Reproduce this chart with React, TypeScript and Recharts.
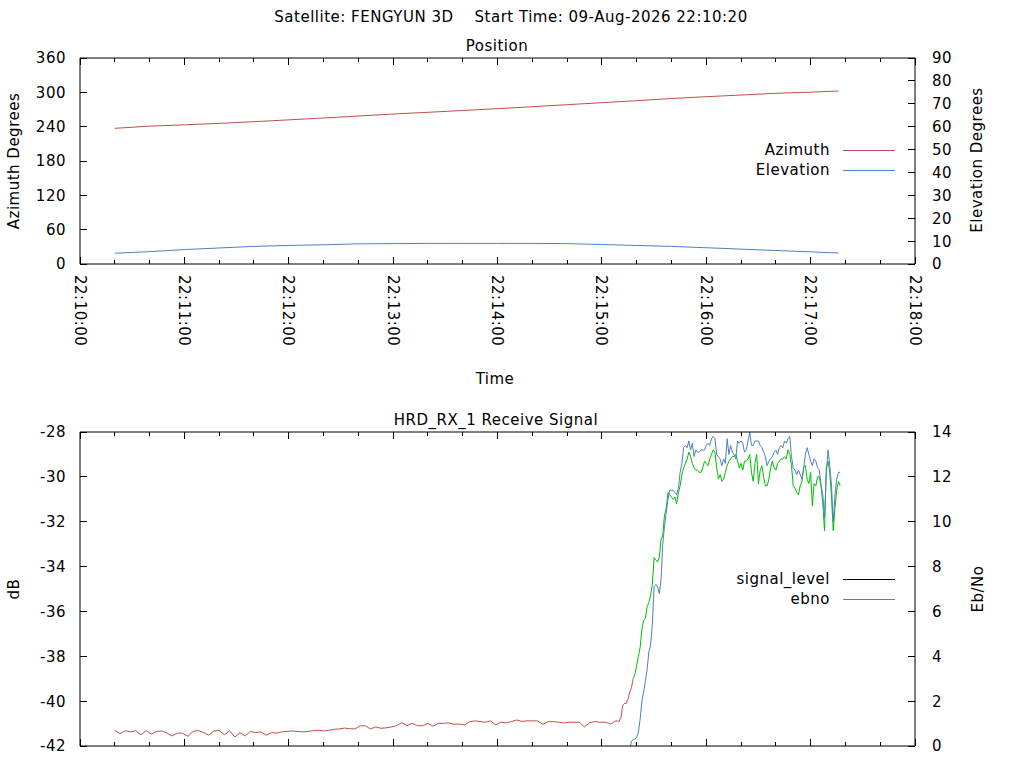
import React from 'react';
import { LineChart, Line, XAxis, YAxis } from 'recharts';

const FONT = '"DejaVu Sans", sans-serif';
const RED = '#c0504d';
const BLUE = '#4f81bd';
const GREEN = '#00c000';

// seconds after 22:10:00
const timeTicks = [0, 20, 40, 60, 80, 100, 120, 140, 160, 180, 200, 220, 240, 260, 280, 300, 320, 340, 360, 380, 400, 420, 440, 460, 480];
const azTicks = [0, 60, 120, 180, 240, 300, 360];
const elTicks = [0, 10, 20, 30, 40, 50, 60, 70, 80, 90];
const dbTicks = [-42, -40, -38, -36, -34, -32, -30, -28];
const ebnoTicks = [0, 2, 4, 6, 8, 10, 12, 14];

// Position panel
const posTimes = [20, 40, 60, 80, 100, 120, 140, 160, 180, 200, 220, 240, 260, 280, 300, 320, 340, 360, 380, 400, 420, 436];
const azimuth = [237.1, 240.9, 243.2, 245.8, 248.7, 251.9, 255.1, 258.6, 262.1, 265.1, 268.3, 271.4, 274.9, 278.4, 281.9, 285.4, 289.2, 292.4, 295.3, 298.3, 300.3, 302.3];
const elevation = [4.7, 5.4, 6.3, 7.0, 7.7, 8.1, 8.4, 8.8, 8.9, 9.0, 9.0, 9.0, 9.0, 8.9, 8.5, 8.1, 7.7, 7.1, 6.5, 5.9, 5.3, 4.8];

// Receive signal panel: quiet part sampled every 3 s, pass every 1 s
const QUIET_START = 20;
const QUIET_STEP = 3;
const quietDb = [
  -41.30, -41.45, -41.32, -41.37, -41.32, -41.50, -41.32, -41.47, -41.35, -41.33,
  -41.42, -41.55, -41.42, -41.43, -41.57, -41.35, -41.31, -41.40, -41.52, -41.33,
  -41.31, -41.50, -41.32, -41.60, -41.41, -41.55, -41.35, -41.40, -41.37, -41.52,
  -41.41, -41.42, -41.37, -41.35, -41.33, -41.35, -41.37, -41.35, -41.32, -41.30,
  -41.33, -41.30, -41.26, -41.24, -41.20, -41.23, -41.24, -41.10, -41.10,
  -41.24, -41.15, -41.21, -41.19, -41.15, -41.09, -40.96, -41.09, -40.99, -41.09,
  -41.10, -40.99, -41.12, -40.99, -40.99, -40.97, -41.03, -41.02, -41.06, -40.92,
  -40.88, -40.91, -40.94, -40.88, -41.06, -40.94, -40.97, -40.91, -40.84, -40.90,
  -40.88, -40.88, -40.88, -41.03, -40.92, -40.91, -40.94, -40.97, -40.94, -40.94,
  -40.94, -41.15, -40.96, -40.91, -40.94, -40.94, -41.02, -40.88,
];
const ACTIVE_START = 310;
const activeDb = [
  -40.9, -40.7, -40.2, -40.1, -40.1, -39.9, -39.6, -39.4, -39.0, -38.8,
  -38.4, -38.0, -37.6, -36.8, -36.4, -36.3, -35.8, -35.6, -35.3, -34.8,
  -33.6, -33.7, -33.8, -33.6, -32.8, -32.6, -31.7, -31.4, -30.7, -30.8,
  -30.9, -31.0, -30.9, -31.2, -30.7, -30.4, -29.9, -29.6, -29.4, -29.2,
  -28.9, -29.1, -29.4, -29.6, -29.7, -29.7, -29.8, -29.8, -29.6, -29.3,
  -29.4, -29.5, -29.2, -29.0, -28.8, -28.9, -29.6, -30.1, -29.9, -30.2,
  -30.1, -29.8, -29.5, -29.3, -29.2, -29.1, -29.1, -29.0, -29.3, -29.6,
  -29.4, -29.7, -29.3, -29.3, -29.2, -29.0, -29.8, -30.2, -29.4, -29.0,
  -30.3, -29.7, -29.5, -30.0, -30.4, -30.4, -30.1, -29.6, -29.3, -29.6,
  -29.7, -29.4, -29.3, -29.2, -29.2, -29.1, -29.2, -28.8, -29.0, -29.5,
  -30.4, -30.5, -30.7, -30.8, -30.4, -30.2, -29.6, -29.5, -30.1, -30.3,
  -29.8, -31.3, -30.3, -30.4, -30.0, -30.0, -30.4, -31.2, -32.4, -29.6,
  -29.3, -29.8, -30.9, -32.4, -31.4, -30.6, -30.2, -30.4,
];
const activeEbno = [
  null, null, null, null, null, null, -0.2, 0.2, 0.3, 0.3,
  0.4, 0.6, 1.2, 2.0, 2.4, 2.9, 3.4, 4.2, 4.5, 5.4,
  7.1, 7.2, 7.1, 6.8, 7.4, 9.0, 9.8, 10.4, 11.0, 11.4,
  11.4, 11.4, 11.3, 11.2, 11.5, 12.2, 12.6, 13.3, 13.4, 13.3,
  13.6, 13.2, 13.5, 12.9, 13.2, 13.1, 13.1, 13.2, 13.2, 13.2,
  13.4, 13.5, 13.4, 13.7, 13.8, 13.7, 13.0, 12.9, 12.8, 12.5,
  12.8, 12.6, 13.7, 13.0, 13.4, 13.1, 13.0, 12.8, 13.6, 13.5,
  13.6, 13.5, 13.1, 13.2, 13.6, 14.0, 13.4, 13.4, 13.6, 13.6,
  13.6, 13.4, 13.3, 13.1, 12.9, 12.5, 12.7, 12.8, 12.9, 13.1,
  13.2, 13.0, 13.3, 13.4, 13.3, 13.6, 13.5, 13.7, 13.8, 12.9,
  12.4, 12.3, 12.1, 12.3, 12.1, 11.9, 12.4, 13.0, 13.3, 13.0,
  12.7, 12.5, 12.8, 12.7, 12.4, 12.3, 11.6, 11.2, 10.2, 12.1,
  13.2, 12.5, 11.6, 10.0, 11.2, 11.9, 12.2, 12.2,
];
// signal drawn red before lock, green after
const LOCK_T = 318;

const posData = posTimes.map((t, i) => ({ t, azimuth: azimuth[i], elevation: elevation[i] }));
const sigData = [
  ...quietDb.map((v, i) => ({ t: QUIET_START + i * QUIET_STEP, db: v, ebno: null as number | null })),
  ...activeDb.map((v, i) => ({ t: ACTIVE_START + i, db: v, ebno: activeEbno[i] })),
].map((r) => ({ ...r, low: r.t <= LOCK_T ? r.db : null, high: r.t >= LOCK_T ? r.db : null }));

const clock = (s: number) => {
  const total = 22 * 3600 + 10 * 60 + s;
  const p = (n: number) => String(n).padStart(2, '0');
  return `${p(Math.floor(total / 3600))}:${p(Math.floor(total / 60) % 60)}:${p(total % 60)}`;
};

const txt = { fontFamily: FONT, fontSize: 15, letterSpacing: 0.5, fill: '#000' } as const;

const TimeTick = (props: any) => {
  const { x, y, payload, side, labels } = props;
  const major = payload.value % 60 === 0;
  const len = major ? 7 : 4;
  const dir = side === 'bottom' ? -1 : 1;
  return (
    <g>
      <line x1={x} y1={y} x2={x} y2={y + dir * len} stroke="#000" shapeRendering="crispEdges" />
      {labels && major && (
        <text transform={`translate(${x},${y + 11}) rotate(90)`} dy="0.36em" textAnchor="start" {...txt}>
          {clock(payload.value)}
        </text>
      )}
    </g>
  );
};

const ValueTick = (props: any) => {
  const { x, y, payload, side } = props;
  const left = side === 'left';
  return (
    <g>
      <line x1={x} y1={y} x2={x + (left ? 7 : -7)} y2={y} stroke="#000" shapeRendering="crispEdges" />
      <text x={left ? x - 14 : x + 17} y={y} dy="0.36em" textAnchor={left ? 'end' : 'start'} {...txt}>
        {payload.value}
      </text>
    </g>
  );
};

const abs = (left: number, top: number, extra: React.CSSProperties = {}): React.CSSProperties => ({
  position: 'absolute',
  left,
  top,
  fontFamily: FONT,
  fontSize: 15,
  letterSpacing: 0.5,
  lineHeight: '18px',
  color: '#000',
  whiteSpace: 'pre',
  ...extra,
});

const Centered = ({ cx, cy, text, rotate = 0 }: { cx: number; cy: number; text: string; rotate?: number }) => (
  <div style={abs(cx, cy, { transform: `translate(-50%,-50%) rotate(${rotate}deg)` })}>{text}</div>
);

const LegendRow = ({ y, label, color }: { y: number; label: string; color: string }) => (
  <>
    <div style={abs(530, y - 9, { width: 300, textAlign: 'right' })}>{label}</div>
    <div style={{ position: 'absolute', left: 843, top: y, width: 52, height: 1, background: color }} />
  </>
);

const axisCommon = {
  axisLine: { stroke: '#000', strokeWidth: 1 },
  tickLine: false,
  tickSize: 0,
  tickMargin: 0,
  interval: 0 as const,
};

export default function App() {
  return (
    <div style={{ position: 'absolute', left: 0, top: 0, width: 1024, height: 768, background: '#fff', overflow: 'hidden' }}>
      <Centered cx={511} cy={17} text="Satellite: FENGYUN 3D    Start Time: 09-Aug-2026 22:10:20" />
      <Centered cx={497} cy={46} text="Position" />
      <Centered cx={495} cy={379} text="Time" />
      <Centered cx={496} cy={420} text="HRD_RX_1 Receive Signal" />
      <Centered cx={14} cy={161} text="Azimuth Degrees" rotate={-90} />
      <Centered cx={977} cy={160} text="Elevation Degrees" rotate={-90} />
      <Centered cx={14} cy={589} text="dB" rotate={-90} />
      <Centered cx={978} cy={589} text="Eb/No" rotate={-90} />

      <div style={{ position: 'absolute', left: 0, top: 0 }}>
        <LineChart width={1024} height={380} data={posData} margin={{ top: 38, right: 0, bottom: 0, left: 0 }}>
          <XAxis xAxisId="b" dataKey="t" type="number" domain={[0, 480]} ticks={timeTicks} height={116} orientation="bottom"
            {...axisCommon} tick={(p: any) => <TimeTick {...p} side="bottom" labels />} />
          <XAxis xAxisId="t" dataKey="t" type="number" domain={[0, 480]} ticks={timeTicks} height={20} orientation="top"
            {...axisCommon} tick={(p: any) => <TimeTick {...p} side="top" />} />
          <YAxis yAxisId="az" type="number" domain={[0, 360]} ticks={azTicks} width={80} orientation="left"
            {...axisCommon} tick={(p: any) => <ValueTick {...p} side="left" />} />
          <YAxis yAxisId="el" type="number" domain={[0, 90]} ticks={elTicks} width={109} orientation="right"
            {...axisCommon} tick={(p: any) => <ValueTick {...p} side="right" />} />
          <Line xAxisId="b" yAxisId="az" type="linear" dataKey="azimuth" stroke={RED} strokeWidth={1} dot={false} isAnimationActive={false} />
          <Line xAxisId="b" yAxisId="el" type="linear" dataKey="elevation" stroke={BLUE} strokeWidth={1} dot={false} isAnimationActive={false} />
        </LineChart>
      </div>

      <div style={{ position: 'absolute', left: 0, top: 400 }}>
        <LineChart width={1024} height={360} data={sigData} margin={{ top: 12, right: 0, bottom: 0, left: 0 }}>
          <XAxis xAxisId="b" dataKey="t" type="number" domain={[0, 480]} ticks={timeTicks} height={14} orientation="bottom"
            {...axisCommon} tick={(p: any) => <TimeTick {...p} side="bottom" />} />
          <XAxis xAxisId="t" dataKey="t" type="number" domain={[0, 480]} ticks={timeTicks} height={20} orientation="top"
            {...axisCommon} tick={(p: any) => <TimeTick {...p} side="top" />} />
          <YAxis yAxisId="db" type="number" domain={[-42, -28]} ticks={dbTicks} width={80} orientation="left" allowDataOverflow
            {...axisCommon} tick={(p: any) => <ValueTick {...p} side="left" />} />
          <YAxis yAxisId="eb" type="number" domain={[0, 14]} ticks={ebnoTicks} width={109} orientation="right" allowDataOverflow
            {...axisCommon} tick={(p: any) => <ValueTick {...p} side="right" />} />
          <Line xAxisId="b" yAxisId="db" type="linear" dataKey="high" stroke={GREEN} strokeWidth={1} dot={false} isAnimationActive={false} />
          <Line xAxisId="b" yAxisId="db" type="linear" dataKey="low" stroke={RED} strokeWidth={1} dot={false} isAnimationActive={false} />
          <Line xAxisId="b" yAxisId="eb" type="linear" dataKey="ebno" stroke={BLUE} strokeWidth={1} dot={false} isAnimationActive={false} />
        </LineChart>
      </div>

      <LegendRow y={150} label="Azimuth" color={RED} />
      <LegendRow y={170} label="Elevation" color={BLUE} />
      <LegendRow y={579} label="signal_level" color="#000" />
      <LegendRow y={599} label="ebno" color={BLUE} />
    </div>
  );
}
